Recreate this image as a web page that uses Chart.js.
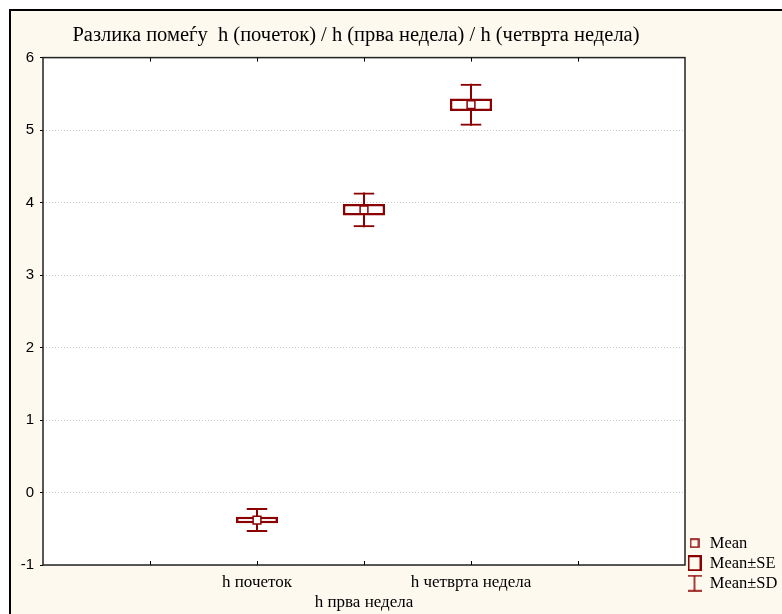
<!DOCTYPE html>
<html>
<head>
<meta charset="utf-8">
<script src="https://cdn.jsdelivr.net/npm/chart.js@4"></script>
<style>
  html, body { margin: 0; padding: 0; background: #fff; overflow: hidden; }
  #frame { position: absolute; left: 9px; top: 9px; right: 0; bottom: 0; border-left: 2px solid #000; border-top: 2px solid #000; background: #fdf9ee; }
  #chart { position: absolute; left: 0; top: 0; }
</style>
</head>
<body>
<div id="frame"></div>
<canvas id="chart" width="782" height="614"></canvas>
<script>
const categories = ['h почеток', 'h прва недела', 'h четврта недела'];
const means = [-0.38, 3.90, 5.35];
const stdErrs = [0.045, 0.08, 0.085];
const stdDevs = [0.165, 0.24, 0.29];
const yTicks = [-1, 0, 1, 2, 3, 4, 5, 6];
const legendLabels = ['Mean', 'Mean±SE', 'Mean±SD'];
const title = 'Разлика помеѓу  h (почеток) / h (прва недела) / h (четврта недела)';

const markColor = '#8b0000';
const serif = "'Liberation Serif', 'Times New Roman', serif";
const sans = "'Liberation Sans', Arial, sans-serif";

// categories sit at 2,3,4 on a 0..6 axis, like the original
const firstSlot = 2;
const xOf = i => i + firstSlot;

const range = (spread) => categories.map((c, i) => ({x: xOf(i), y: [means[i] - spread[i], means[i] + spread[i]]}));

function icon(w, h, draw) {
    const c = document.createElement('canvas');
    c.width = w;
    c.height = h;
    const g = c.getContext('2d');
    g.strokeStyle = markColor;
    draw(g);
    return c;
}

const legendIcons = [
    icon(10, 10, g => { g.lineWidth = 1.5; g.strokeRect(1, 1, 8, 8); }),
    icon(14, 16, g => { g.lineWidth = 2; g.strokeRect(1, 1, 12, 14); }),
    icon(14, 17, g => {
        g.lineWidth = 1.5;
        g.beginPath();
        g.moveTo(0, 1); g.lineTo(14, 1);
        g.moveTo(7, 1); g.lineTo(7, 16);
        g.moveTo(0, 16); g.lineTo(14, 16);
        g.stroke();
    })
];

const framePlugin = {
    id: 'frame',
    beforeDraw(chart) {
        const {ctx, chartArea: a} = chart;
        ctx.save();
        ctx.fillStyle = '#fff';
        ctx.fillRect(a.left, a.top, a.width, a.height);
        ctx.restore();
    },
    afterDraw(chart) {
        const {ctx, chartArea: a, scales: {x}} = chart;
        ctx.save();
        ctx.strokeStyle = '#222';
        ctx.lineWidth = 1.5;
        ctx.strokeRect(a.left, a.top, a.width, a.height);
        ctx.lineWidth = 1;
        ctx.strokeStyle = '#000';
        ctx.beginPath();
        x.ticks.forEach(t => {
            if (t.value <= x.min || t.value >= x.max) return;
            const px = Math.round(x.getPixelForValue(t.value)) + 0.5;
            ctx.moveTo(px, a.top);
            ctx.lineTo(px, a.top + 4);
            ctx.moveTo(px, a.bottom);
            ctx.lineTo(px, a.bottom - 4);
        });
        ctx.stroke();
        ctx.restore();
    }
};

// legend in the bottom right corner outside the plot; title a bit left of the plot centre
const placeBoxes = {
    id: 'placeBoxes',
    afterUpdate(chart) {
        const a = chart.chartArea;
        const lg = chart.legend;
        lg.left = a.right - 1;
        lg.right = chart.width;
        lg.top = a.bottom - 33.5;
        lg.bottom = chart.height;
        lg.width = lg.right - lg.left;
        lg.height = lg.bottom - lg.top;
        lg.adjustHitBoxes();

        const tb = chart.titleBlock;
        tb.left = a.left - 16;
        tb.width = tb.right - tb.left;
    }
};

new Chart(document.getElementById('chart'), {
    type: 'bar',
    data: {
        datasets: [
            {
                label: 'SD',
                data: range(stdDevs),
                backgroundColor: markColor,
                borderWidth: 0,
                barThickness: 2,
                grouped: false,
                inflateAmount: 0,
                order: 4
            },
            {
                label: 'SD caps',
                data: range(stdDevs),
                backgroundColor: 'transparent',
                borderColor: markColor,
                borderWidth: {top: 2, bottom: 2, left: 0, right: 0},
                borderSkipped: false,
                barThickness: 21,
                grouped: false,
                inflateAmount: 0,
                order: 3
            },
            {
                label: 'SE',
                data: range(stdErrs),
                backgroundColor: '#fff',
                borderColor: markColor,
                borderWidth: 2.5,
                borderSkipped: false,
                barThickness: 42,
                grouped: false,
                inflateAmount: 0,
                order: 2
            },
            {
                type: 'scatter',
                label: 'Mean',
                data: means.map((m, i) => ({x: xOf(i), y: m})),
                pointStyle: 'rect',
                pointRadius: 5.5,
                pointBackgroundColor: '#fff',
                pointBorderColor: markColor,
                pointBorderWidth: 1.5,
                order: 1
            }
        ]
    },
    options: {
        responsive: false,
        animation: false,
        events: [],
        layout: {padding: {left: 0, right: 97, top: 0, bottom: 0}},
        scales: {
            x: {
                type: 'linear',
                min: 0,
                max: categories.length + 2 * firstSlot - 1,
                offset: false,
                afterBuildTicks: s => {
                    s.ticks = Array.from({length: categories.length + 2 * firstSlot}, (_, i) => ({value: i}));
                },
                afterFit: s => { s.height = 49; },
                grid: {display: false, drawTicks: false, offset: false},
                border: {display: false},
                ticks: {
                    autoSkip: false,
                    maxRotation: 0,
                    padding: 7,
                    color: '#000',
                    font: {family: serif, size: 17},
                    callback: v => {
                        const i = v - firstSlot;
                        if (i < 0 || i >= categories.length) return '';
                        return i % 2 ? ['', categories[i]] : categories[i];
                    }
                }
            },
            y: {
                min: yTicks[0],
                max: yTicks[yTicks.length - 1],
                afterBuildTicks: s => { s.ticks = yTicks.map(v => ({value: v})); },
                afterFit: s => { s.width = 43; },
                grid: {
                    color: '#c8c8c8',
                    lineWidth: 1,
                    tickLength: 3,
                    tickColor: '#000',
                    tickBorderDash: []
                },
                border: {display: false, dash: [1, 2]},
                ticks: {
                    padding: 6,
                    color: '#000',
                    font: {family: sans, size: 15}
                }
            }
        },
        plugins: {
            title: {
                display: true,
                text: title,
                fullSize: false,
                color: '#000',
                font: {family: serif, size: 20.5, weight: 'normal'},
                padding: {top: 23, bottom: 10}
            },
            legend: {
                position: 'chartArea',
                align: 'start',
                onClick: () => {},
                labels: {
                    usePointStyle: true,
                    pointStyleWidth: 14,
                    boxHeight: 14,
                    padding: 3.5,
                    color: '#000',
                    font: {family: serif, size: 16.5},
                    generateLabels: () => legendLabels.map((text, i) => ({
                        text,
                        pointStyle: legendIcons[i],
                        fillStyle: 'transparent',
                        strokeStyle: 'transparent',
                        lineWidth: 0,
                        hidden: false,
                        datasetIndex: i
                    }))
                }
            },
            tooltip: {enabled: false}
        }
    },
    plugins: [framePlugin, placeBoxes]
});
</script>
</body>
</html>
